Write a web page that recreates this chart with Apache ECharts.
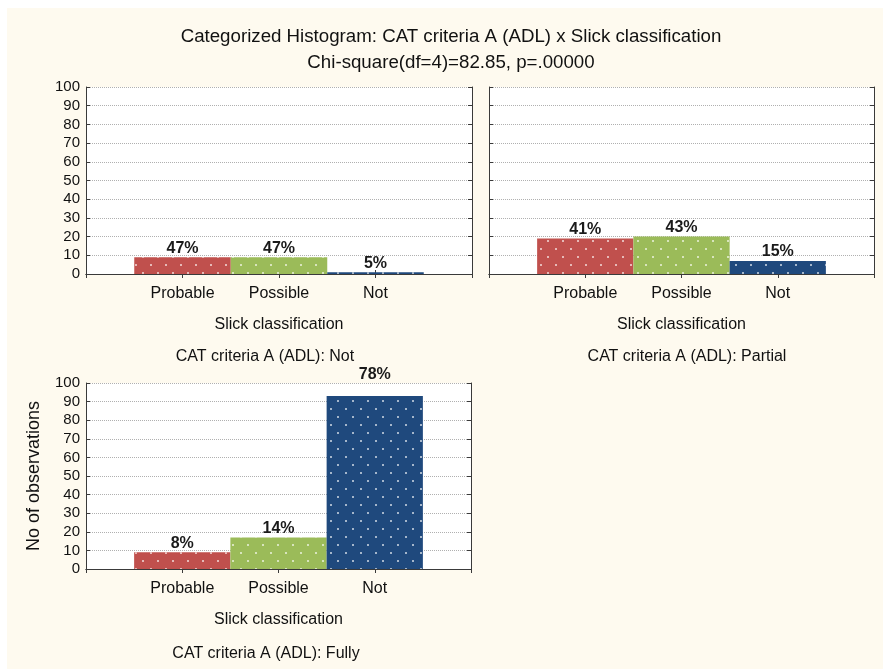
<!DOCTYPE html>
<html>
<head>
<meta charset="utf-8">
<title>Categorized Histogram</title>
<script src="https://cdn.jsdelivr.net/npm/echarts@6/dist/echarts.min.js"></script>
<style>
  html, body { margin: 0; padding: 0; background: #fff; }
  #chart { width: 883px; height: 669px; }
</style>
</head>
<body>
<div id="chart"></div>
<script>
// values
var categories = ['Probable', 'Possible', 'Not'];
var countsNot = [9, 9, 1];
var countsPartial = [19, 20, 7];
var countsFully = [9, 17, 93];
var pctNot = ['47%', '47%', '5%'];
var pctPartial = ['41%', '43%', '15%'];
var pctFully = ['8%', '14%', '78%'];
var yMin = 0, yMax = 100, yStep = 10;

var titleText = 'Categorized Histogram: CAT criteria A (ADL) x Slick classification';
var subTitleText = 'Chi-square(df=4)=82.85, p=.00000';
var xName = 'Slick classification';
var yName = 'No of observations';

var catColors = ['#C0504D', '#9BBB59', '#1F497D'];
var FONT = '"Liberation Sans", Arial, sans-serif';

// one entry per panel (layout only)
var panels = [
  { left: 86, top: 87, width: 386, height: 187, counts: countsNot, pct: pctNot,
    name: 'CAT criteria A (ADL): Not', nx: 265, ny: 357, yLabels: true, yTitle: '' },
  { left: 489, top: 87, width: 385, height: 187, counts: countsPartial, pct: pctPartial,
    name: 'CAT criteria A (ADL): Partial', nx: 687, ny: 357, yLabels: false, yTitle: '' },
  { left: 86, top: 383, width: 385, height: 186, counts: countsFully, pct: pctFully,
    name: 'CAT criteria A (ADL): Fully', nx: 266, ny: 654, yLabels: true, yTitle: yName }
];

var axisData = [''].concat(categories, ['']);
var lineCol = '#3a3a3a';

var grids = [], xAxes = [], yAxes = [], series = [];
var graphics = [
  { type: 'rect', left: 7, top: 8, shape: { width: 876, height: 661 }, style: { fill: '#FEFAEF' }, z: -10 },
  { type: 'text', x: 451, y: 37, style: { text: titleText, font: '18.7px ' + FONT, fill: '#111', textAlign: 'center', textVerticalAlign: 'middle' } },
  { type: 'text', x: 451, y: 63, style: { text: subTitleText, font: '18.7px ' + FONT, fill: '#111', textAlign: 'center', textVerticalAlign: 'middle' } }
];

panels.forEach(function (p, k) {
  grids.push({ left: p.left, top: p.top, width: p.width, height: p.height,
    show: true, backgroundColor: '#fff', borderWidth: 0 });

  // bottom category axis
  xAxes.push({
    type: 'category', gridIndex: k, data: axisData, boundaryGap: false, position: 'bottom',
    name: xName, nameLocation: 'middle', nameGap: 43,
    nameTextStyle: { fontSize: 16, color: '#111', fontFamily: FONT },
    axisLine: { lineStyle: { color: lineCol, width: 1 } },
    axisTick: { inside: true, length: 4, interval: 0, lineStyle: { color: lineCol } },
    axisLabel: { margin: 12, fontSize: 16, color: '#111', fontFamily: FONT, interval: 0 },
    splitLine: { show: false }
  });
  // top frame axis
  xAxes.push({
    type: 'category', gridIndex: k, data: axisData, boundaryGap: false, position: 'top',
    axisLine: { lineStyle: { color: lineCol, width: 1 } },
    axisTick: { inside: true, length: 4, interval: 0, lineStyle: { color: lineCol } },
    axisLabel: { show: false }, splitLine: { show: false }
  });
  // left value axis
  yAxes.push({
    type: 'value', gridIndex: k, min: yMin, max: yMax, interval: yStep, position: 'left',
    name: p.yTitle, nameLocation: 'middle', nameGap: 43,
    nameTextStyle: { fontSize: 18, color: '#111', fontFamily: FONT },
    axisLine: { show: true, lineStyle: { color: lineCol, width: 1 } },
    axisTick: { show: true, inside: true, length: 4, lineStyle: { color: lineCol } },
    axisLabel: { show: p.yLabels, margin: 6, fontSize: 15, color: '#111', fontFamily: FONT },
    splitLine: { show: true, lineStyle: { color: '#b0b0b0', type: 'dotted', width: 1 } }
  });
  // right frame axis
  yAxes.push({
    type: 'value', gridIndex: k, min: yMin, max: yMax, interval: yStep, position: 'right',
    axisLine: { show: true, lineStyle: { color: lineCol, width: 1 } },
    axisTick: { show: true, inside: true, length: 4, lineStyle: { color: lineCol } },
    axisLabel: { show: false }, splitLine: { show: false }
  });

  var data = ['-'].concat(p.counts.map(function (v, i) {
    var item = { value: v, itemStyle: { color: catColors[i] } };
    // a label that would run into the frame is lifted above it
    if (v > yMax - 12) item.label = { offset: [0, -12] };
    return item;
  }), ['-']);

  series.push({
    type: 'bar', xAxisIndex: k * 2, yAxisIndex: k * 2, data: data,
    barWidth: '100%', barGap: '0%',
    itemStyle: {
      decal: {
        symbol: 'circle', symbolSize: 1, color: 'rgba(255,255,255,0.8)',
        dashArrayX: [[2, 13], [0, 7, 2, 6]], dashArrayY: [2, 6]
      }
    },
    label: {
      show: true, position: 'top', distance: 1, fontSize: 16, fontWeight: 'bold', color: '#1a1a1a', fontFamily: FONT,
      formatter: function (q) { return p.pct[q.dataIndex - 1]; }
    },
    silent: true
  });

  graphics.push({ type: 'text', x: p.nx, y: p.ny,
    style: { text: p.name, font: '16px ' + FONT, fill: '#111', textAlign: 'center', textVerticalAlign: 'middle' } });
});

var chart = echarts.init(document.getElementById('chart'));
chart.setOption({
  backgroundColor: '#fff',
  animation: false,
  grid: grids,
  xAxis: xAxes,
  yAxis: yAxes,
  series: series,
  graphic: graphics
});
</script>
</body>
</html>
